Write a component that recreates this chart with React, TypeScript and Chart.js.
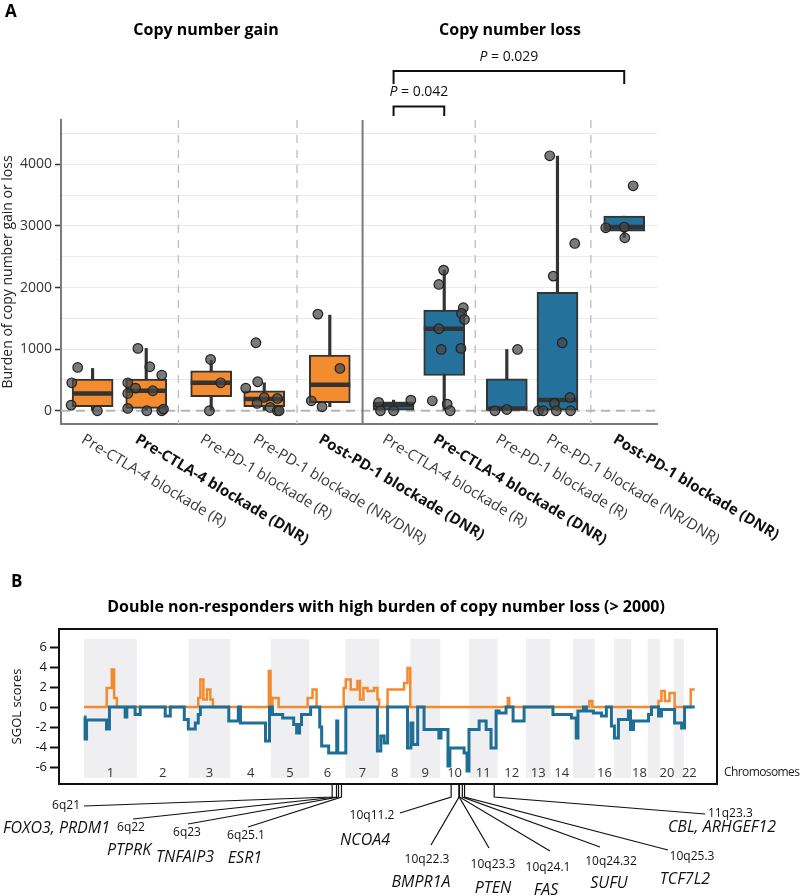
import React, { useEffect, useRef } from 'react';
import { Chart, registerables } from 'chart.js';

Chart.register(...registerables);

const FONT = "'Open Sans', 'DejaVu Sans', sans-serif";

// ---------------- Panel A data ----------------
const boxLabels = [
  'Pre-CTLA-4 blockade (R)', 'Pre-CTLA-4 blockade (DNR)', 'Pre-PD-1 blockade (R)', 'Pre-PD-1 blockade (NR/DNR)', 'Post-PD-1 blockade (DNR)',
  'Pre-CTLA-4 blockade (R)', 'Pre-CTLA-4 blockade (DNR)', 'Pre-PD-1 blockade (R)', 'Pre-PD-1 blockade (NR/DNR)', 'Post-PD-1 blockade (DNR)',
];
const boxBold = [false, true, false, false, true, false, true, false, false, true];
const boxKind = ['gain', 'gain', 'gain', 'gain', 'gain', 'loss', 'loss', 'loss', 'loss', 'loss'];
const boxSlot = [0.03, 0.93, 2.02, 2.91, 4.01, 5.08, 5.93, 6.98, 7.83, 8.95];
const groupDividers = [1.47, 3.46, 6.45, 8.39];
const facetDivider = 4.56;
const facetTitles = ['Copy number gain', 'Copy number loss'];

const whiskerLow = [0, 0, 0, 0, 65, 0, 0, 0, 0, 2813];
const quart1 = [65, 38, 227, 65, 130, 0, 573, 11, 0, 2916];
const medians = [281, 325, 454, 189, 422, 92, 1331, 38, 173, 2981];
const quart3 = [514, 514, 649, 325, 903, 146, 1634, 519, 1921, 3159];
const whiskerHigh = [687, 1012, 822, 454, 1553, 173, 2283, 995, 4133, 3159];

const pointValues = [
  [703, 454, 92, 0],
  [1012, 714, 579, 454, 368, 325, 281, 38, 0, 0, 27],
  [833, 454, 0],
  [1104, 471, 368, 216, 200, 119, 54, 0, 0],
  [1569, 687, 162, 65],
  [135, 0, 173, 0],
  [2283, 2050, 1672, 1580, 1482, 1331, 995, 1012, 162, 108, 0],
  [995, 0, 20],
  [4139, 2716, 2186, 1104, 216, 119, 0, 0, 0, 0],
  [3652, 2970, 2981, 2808],
];
const pointJitter = [
  [-0.25, -0.35, -0.36, 0.08],
  [-0.14, 0.06, 0.26, -0.31, -0.18, 0.11, -0.31, -0.31, 0.01, 0.26, 0.29],
  [-0.01, 0.16, -0.03],
  [-0.14, -0.11, -0.31, 0, 0.22, -0.12, 0.1, 0.22, 0.25],
  [-0.2, 0.17, -0.31, -0.13],
  [-0.25, -0.22, 0.29, 0],
  [-0.01, -0.09, 0.32, 0.29, 0.34, -0.09, -0.05, 0.28, -0.2, 0.05, 0.1],
  [0.18, -0.2, 0],
  [-0.13, 0.29, -0.07, 0.08, 0.21, -0.05, -0.32, -0.24, -0.02, 0.22],
  [0.15, -0.31, 0, 0.01],
];
const yTicksA = [0, 500, 1000, 1500, 2000, 2500, 3000, 3500, 4000, 4500];
const pTexts = ['0.029', '0.042'];
const pPairs = [[5, 9], [5, 6]];

// ---------------- Panel B data ----------------
const chromLengths = [249.25, 243.2, 198.02, 191.15, 180.92, 171.12, 159.14, 146.36, 141.21, 135.53, 135.01,
  133.85, 115.17, 107.35, 102.53, 90.35, 81.2, 78.08, 59.13, 63.03, 48.13, 51.3];
const chromShown = ['1', '2', '3', '4', '5', '6', '7', '8', '9', '10', '11', '12', '13', '14', '16', '18', '20', '22'];

const lossPos = [0, 5, 12, 106, 120, 194, 202, 241, 265, 383, 407, 473, 492, 525, 539, 549, 683, 728, 738, 856, 875, 889, 937, 989, 1003, 1017, 1026, 1069, 1112, 1121, 1154, 1192, 1197, 1235, 1384, 1400, 1416, 1432, 1526, 1542, 1551, 1574, 1604, 1674, 1684, 1717, 1726, 1793, 1807, 1816, 1864, 1897, 1920, 1944, 1958, 1991, 2024, 2076, 2212, 2299, 2322, 2330, 2356, 2370, 2403, 2441, 2464, 2488, 2502, 2521, 2568, 2578, 2592, 2663, 2677, 2710, 2724, 2786, 2819, 2833, 2881];
const lossScore = [-1.0, -3.2, -1.3, -2.2, 0, -1.0, 0, -0.75, 0, -0.9, 0, -1.25, -2.2, -1.6, -0.75, 0, -1.4, 0, -1.6, -3.4, 0, -0.75, -1.1, -1.75, -2.6, -1.75, -0.75, 0, -2.0, -3.9, -4.6, -1.4, -4.6, 0, -4.4, -2.9, -3.6, 0, -4.1, -1.6, -3.75, 0, -2.25, -3.1, -2.25, -5.9, -4.1, -4.6, -6.4, -2.25, -1.4, -2.25, -4.1, -0.4, -0.6, 0, -1.4, 0, -0.75, -1.1, -3.1, -0.4, 0, -0.4, -0.6, -0.9, 0, -1.9, -3.1, -1.25, -0.4, -2.25, -1.4, -0.75, 0, -0.9, -0.25, -1.6, -2.1, 0, 0];
const gainPos = [0, 107, 131, 142, 155, 539, 549, 563, 580, 596, 608, 872, 880, 889, 918, 1055, 1078, 1097, 1225, 1235, 1258, 1290, 1302, 1318, 1337, 1368, 1384, 1392, 1432, 1510, 1526, 1539, 1999, 2006, 2384, 2398, 2710, 2724, 2740, 2762, 2786, 2862, 2881];
const gainScore = [0, 1.9, 3.75, 0.9, 0, 0.9, 2.75, 0.75, 1.75, 0.75, 0, 3.6, 0, 0.9, 0, 0.9, 1.75, 0, 1.9, 2.75, 1.75, 2.6, 0.75, 1.9, 1.6, 1.9, 0.75, 0, 1.75, 2.4, 3.9, 0, 0.9, 0, 0.6, 0, 0.6, 1.6, 0.6, 1.4, 0, 1.75, 1.75];
const yTicksB = [-6, -4, -2, 0, 2, 4, 6];

const lociBand = ['6q21', '6q22', '6q23', '6q25.1', '10q11.2', '10q22.3', '10q23.3', '10q24.1', '10q24.32', '10q25.3', '11q23.3'];
const lociGene = ['FOXO3, PRDM1', 'PTPRK', 'TNFAIP3', 'ESR1', 'NCOA4', 'BMPR1A', 'PTEN', 'FAS', 'SUFU', 'TCF7L2', 'CBL, ARHGEF12'];
const lociChrom = [6, 6, 6, 6, 10, 10, 10, 10, 10, 10, 11];
const lociMb = [108, 128.5, 138, 152, 51.5, 88.6, 89.7, 90.8, 104.3, 114.8, 119.1];

const chromStarts: number[] = [];
chromLengths.reduce((acc, l) => { chromStarts.push(acc); return acc + l; }, 0);

// annotation layout (page px): [bandX, bandY, bandAlign, geneX, geneY, geneAlign, endX, endY]
const lociLayout: [number, number, CanvasTextAlign, number, number, CanvasTextAlign, number, number][] = [
  [80, 806, 'right', 110, 828, 'right', 84, 806],
  [131, 828, 'center', 129, 850, 'center', 133, 819],
  [187, 833, 'center', 185, 857, 'center', 188, 824],
  [246, 836, 'center', 245, 858, 'center', 248, 827],
  [372, 816, 'center', 365, 840, 'center', 400, 813],
  [427, 860, 'center', 421, 882, 'center', 431, 845],
  [493, 865, 'center', 493, 888, 'center', 489, 848],
  [548, 868, 'center', 546, 890, 'center', 550, 851],
  [611, 862, 'center', 609, 883, 'center', 600, 847],
  [692, 857, 'center', 685, 879, 'center', 668, 850],
  [708, 814, 'left', 722, 827, 'center', 705, 814],
];

const ORANGE = '#F28C2F';
const BLUE = '#24719C';
const BOTTOM_TOP = 560;

function seg(ctx: CanvasRenderingContext2D, x1: number, y1: number, x2: number, y2: number) {
  ctx.beginPath();
  ctx.moveTo(x1, y1);
  ctx.lineTo(x2, y2);
  ctx.stroke();
}

const panelAPlugin = {
  id: 'panelA',
  beforeDatasetsDraw(chart: any) {
    const { ctx, chartArea: a, scales } = chart;
    const x = scales.x, y = scales.y;
    ctx.save();
    ctx.strokeStyle = '#b5b5b5';
    ctx.lineWidth = 2;
    ctx.setLineDash([9, 6]);
    const y0 = y.getPixelForValue(0);
    seg(ctx, a.left, y0, a.right, y0);
    ctx.lineWidth = 1.3;
    ctx.setLineDash([8, 7]);
    ctx.strokeStyle = '#bdbdbd';
    groupDividers.forEach((d) => {
      const px = x.getPixelForValue(d);
      seg(ctx, px, a.top, px, a.bottom);
    });
    ctx.setLineDash([]);
    ctx.strokeStyle = '#7a7a7a';
    ctx.lineWidth = 2;
    const fx = x.getPixelForValue(facetDivider);
    seg(ctx, fx, a.top, fx, a.bottom);
    ctx.restore();
  },
  afterDraw(chart: any) {
    const { ctx, scales } = chart;
    const x = scales.x;
    ctx.save();
    ctx.fillStyle = '#000';
    ctx.textBaseline = 'middle';
    ctx.textAlign = 'left';
    ctx.font = `bold 17px ${FONT}`;
    ctx.fillText('A', 5, 12);
    ctx.font = `bold 16px ${FONT}`;
    ctx.textAlign = 'center';
    ctx.fillText(facetTitles[0], 206, 30);
    ctx.fillText(facetTitles[1], 510, 30);

    // significance brackets
    const bracketY = [[71, 84, 57], [106.5, 116, 92.5]];
    pPairs.forEach((pair, k) => {
      const x1 = x.getPixelForValue(boxSlot[pair[0]]);
      const x2 = x.getPixelForValue(boxSlot[pair[1]]);
      const [by, bEnd, ty] = bracketY[k];
      ctx.strokeStyle = '#111';
      ctx.lineWidth = 2;
      ctx.beginPath();
      ctx.moveTo(x1, bEnd);
      ctx.lineTo(x1, by);
      ctx.lineTo(x2, by);
      ctx.lineTo(x2, bEnd);
      ctx.stroke();
      ctx.font = `italic 14px ${FONT}`;
      const wP = ctx.measureText('P').width;
      ctx.font = `14px ${FONT}`;
      const rest = ' = ' + pTexts[k];
      const wR = ctx.measureText(rest).width;
      const cx = (x1 + x2) / 2;
      const sx = cx - (wP + wR) / 2;
      ctx.textAlign = 'left';
      ctx.fillStyle = '#111';
      ctx.font = `italic 14px ${FONT}`;
      ctx.fillText('P', sx, ty);
      ctx.font = `14px ${FONT}`;
      ctx.fillText(rest, sx + wP, ty);
    });

    // rotated category labels
    boxLabels.forEach((lab, i) => {
      const px = x.getPixelForValue(boxSlot[i]);
      ctx.save();
      ctx.translate(px - 6, 432);
      ctx.rotate((31 * Math.PI) / 180);
      ctx.textAlign = 'left';
      ctx.textBaseline = 'top';
      ctx.font = boxBold[i] ? `bold 15px ${FONT}` : `15px ${FONT}`;
      ctx.fillStyle = boxBold[i] ? '#111' : '#3a3a3a';
      ctx.fillText(lab, 0, 0);
      ctx.restore();
    });
    ctx.restore();
  },
};

const panelBPlugin = {
  id: 'panelB',
  beforeDatasetsDraw(chart: any) {
    const { ctx, chartArea: a, scales } = chart;
    const x = scales.x, y = scales.y;
    ctx.save();
    ctx.fillStyle = '#efeff2';
    const yt = y.getPixelForValue(6.8);
    const yb = y.getPixelForValue(-7.1);
    chromStarts.forEach((s, i) => {
      if (i % 2 === 0) {
        const x1 = x.getPixelForValue(s);
        const x2 = x.getPixelForValue(s + chromLengths[i]);
        ctx.fillRect(x1, yt, x2 - x1, yb - yt);
      }
    });
    ctx.fillStyle = '#333';
    ctx.font = `13px ${FONT}`;
    ctx.textAlign = 'center';
    ctx.textBaseline = 'middle';
    chromShown.forEach((c) => {
      const i = Number(c) - 1;
      const cx = x.getPixelForValue(chromStarts[i] + chromLengths[i] / 2);
      ctx.fillText(c, cx, a.bottom - 11);
    });
    ctx.restore();
  },
  afterDraw(chart: any) {
    const { ctx, chartArea: a, scales } = chart;
    const x = scales.x;
    ctx.save();
    ctx.strokeStyle = '#111';
    ctx.lineWidth = 2;
    ctx.strokeRect(a.left, a.top, a.right - a.left, a.bottom - a.top);

    ctx.fillStyle = '#000';
    ctx.textBaseline = 'middle';
    ctx.textAlign = 'left';
    ctx.font = `bold 17px ${FONT}`;
    ctx.fillText('B', 11, 582.5 - BOTTOM_TOP);
    ctx.font = `bold 16px ${FONT}`;
    ctx.textAlign = 'center';
    ctx.fillText('Double non-responders with high burden of copy number loss (> 2000)', 386, 607 - BOTTOM_TOP);
    ctx.font = `12px ${FONT}`;
    ctx.textAlign = 'left';
    ctx.fillStyle = '#222';
    (ctx as any).letterSpacing = '-0.6px';
    ctx.fillText('Chromosomes', a.right + 7, a.bottom - 11);
    (ctx as any).letterSpacing = '0px';

    // loci leaders and labels
    ctx.lineWidth = 1.2;
    ctx.strokeStyle = '#111';
    lociBand.forEach((band, i) => {
      const lx = x.getPixelForValue(chromStarts[lociChrom[i] - 1] + lociMb[i]);
      const [bx, by, ba, gx, gy, ga, ex, ey] = lociLayout[i];
      ctx.beginPath();
      ctx.moveTo(lx, a.bottom);
      ctx.lineTo(lx, a.bottom + 13);
      ctx.lineTo(ex, ey - BOTTOM_TOP);
      ctx.stroke();
      ctx.fillStyle = '#111';
      ctx.font = `12px ${FONT}`;
      ctx.textAlign = ba;
      ctx.fillText(band, bx, by - BOTTOM_TOP);
      ctx.font = `italic 16px ${FONT}`;
      ctx.textAlign = ga;
      ctx.fillText(lociGene[i], gx, gy - BOTTOM_TOP);
    });
    ctx.restore();
  },
};

export default function App() {
  const topRef = useRef<HTMLCanvasElement>(null);
  const botRef = useRef<HTMLCanvasElement>(null);

  useEffect(() => {
    document.body.style.margin = '0';
    Chart.defaults.font.family = FONT;

    const boxColors = boxKind.map((k) => (k === 'gain' ? ORANGE : BLUE));
    const points: { x: number; y: number }[] = [];
    pointValues.forEach((vals, i) => vals.forEach((v, j) => points.push({ x: boxSlot[i] + pointJitter[i][j], y: v })));

    const top = new Chart(topRef.current!, {
      type: 'bar',
      data: {
        datasets: [
          {
            type: 'scatter',
            data: points,
            backgroundColor: 'rgba(70,70,70,0.72)',
            borderColor: '#222',
            borderWidth: 1.2,
            pointRadius: 4.8,
            order: 0,
          } as any,
          {
            type: 'scatter',
            data: medians.map((m, i) => ({ x: boxSlot[i], y: m })),
            pointStyle: 'line',
            pointRadius: 20.5,
            borderColor: '#333',
            borderWidth: 4.5,
            order: 1,
          } as any,
          {
            type: 'bar',
            data: quart1.map((q, i) => ({ x: boxSlot[i], y: [q, quart3[i]] })),
            backgroundColor: boxColors,
            borderColor: '#333',
            borderWidth: 2,
            borderSkipped: false,
            barThickness: 41,
            grouped: false,
            order: 2,
          } as any,
          {
            type: 'bar',
            data: whiskerLow.map((lo, i) => ({ x: boxSlot[i], y: [lo, whiskerHigh[i]] })),
            backgroundColor: '#333',
            borderWidth: 0,
            barThickness: 2.5,
            grouped: false,
            order: 3,
          } as any,
        ],
      },
      options: {
        animation: false,
        responsive: false,
        events: [],
        layout: { padding: { left: 0, right: 143, top: 120, bottom: 136 } },
        plugins: { legend: { display: false }, tooltip: { enabled: false } },
        scales: {
          x: {
            type: 'linear',
            min: -0.5,
            max: 9.5,
            offset: false,
            ticks: { display: false },
            grid: { display: false },
            border: { display: true, color: '#7a7a7a', width: 2 },
            afterFit: (s: any) => { s.height = 0; },
          },
          y: {
            type: 'linear',
            min: -215,
            max: 4720,
            afterBuildTicks: (s: any) => { s.ticks = yTicksA.map((v) => ({ value: v })); },
            ticks: {
              callback: (v: any) => (Number(v) % 1000 === 0 ? String(v) : ''),
              font: { size: 14, family: FONT },
              color: '#333',
              padding: 3,
            },
            grid: {
              color: '#ebebeb',
              lineWidth: 1,
              tickLength: 6,
              tickWidth: 1.5,
              tickColor: (c: any) => (c.tick && c.tick.value % 1000 === 0 ? '#333' : 'rgba(0,0,0,0)'),
            },
            border: { display: true, color: '#7a7a7a', width: 2 },
            title: {
              display: true,
              text: 'Burden of copy number gain or loss',
              font: { size: 14, family: FONT },
              color: '#222',
              padding: { top: 0, bottom: 0 },
            },
            afterFit: (s: any) => { s.width = 61; },
          },
        },
      } as any,
      plugins: [panelAPlugin],
    });

    const bottom = new Chart(botRef.current!, {
      type: 'line',
      data: {
        datasets: [
          {
            data: lossPos.map((p, i) => ({ x: p, y: lossScore[i] })),
            borderColor: '#1F6E96',
            borderWidth: 3,
            pointRadius: 0,
            stepped: true,
            fill: false,
          },
          {
            data: gainPos.map((p, i) => ({ x: p, y: gainScore[i] })),
            borderColor: '#F28A2E',
            borderWidth: 2.5,
            pointRadius: 0,
            stepped: true,
            fill: false,
          },
        ],
      },
      options: {
        animation: false,
        responsive: false,
        events: [],
        layout: { padding: { left: 0, right: 83, top: 69, bottom: 112 } },
        plugins: { legend: { display: false }, tooltip: { enabled: false } },
        scales: {
          x: { type: 'linear', min: -118, max: 2986, display: false },
          y: {
            type: 'linear',
            min: -7.7,
            max: 7.8,
            afterBuildTicks: (s: any) => { s.ticks = yTicksB.map((v) => ({ value: v })); },
            ticks: { font: { size: 13, family: FONT }, color: '#111', padding: 3 },
            grid: { drawOnChartArea: false, drawTicks: true, tickLength: 9, tickColor: '#111', tickWidth: 2 },
            border: { display: true, color: '#111', width: 2 },
            title: {
              display: true,
              text: 'SGOL scores',
              font: { size: 13, family: FONT },
              color: '#111',
              padding: { top: 9, bottom: 0 },
            },
            afterFit: (s: any) => { s.width = 59; },
          },
        },
      } as any,
      plugins: [panelBPlugin],
    });

    return () => {
      top.destroy();
      bottom.destroy();
    };
  }, []);

  return (
    <div style={{ position: 'absolute', left: 0, top: 0, width: 800, height: 896, background: '#fff' }}>
      <canvas ref={topRef} width={800} height={BOTTOM_TOP} style={{ position: 'absolute', left: 0, top: 0 }} />
      <canvas ref={botRef} width={800} height={896 - BOTTOM_TOP} style={{ position: 'absolute', left: 0, top: BOTTOM_TOP }} />
    </div>
  );
}
